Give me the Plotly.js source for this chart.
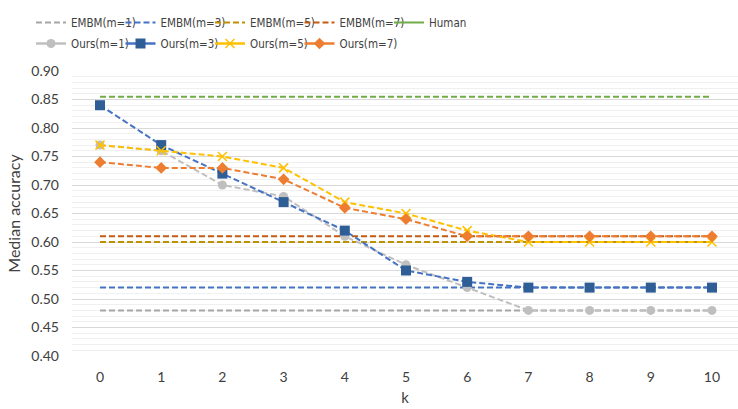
<!DOCTYPE html>
<html><head><meta charset="utf-8">
<script src="https://cdn.plot.ly/plotly-3.0.1.min.js"></script>
<style>html,body{margin:0;padding:0;background:#fff}#chart{width:738px;height:409px}</style>
</head><body><div id="chart"></div>
<script>
const k = [0,1,2,3,4,5,6,7,8,9,10];
const oursM1 = [0.77,0.76,0.70,0.68,0.61,0.56,0.52,0.48,0.48,0.48,0.48];
const oursM3 = [0.84,0.77,0.72,0.67,0.62,0.55,0.53,0.52,0.52,0.52,0.52];
const oursM5 = [0.77,0.76,0.75,0.73,0.67,0.65,0.62,0.60,0.60,0.60,0.60];
const oursM7 = [0.74,0.73,0.73,0.71,0.66,0.64,0.61,0.61,0.61,0.61,0.61];
const embmM1 = 0.48, embmM3 = 0.52, embmM5 = 0.60, embmM7 = 0.61, human = 0.855;
const yTicks = [0.40,0.45,0.50,0.55,0.60,0.65,0.70,0.75,0.80,0.85,0.90];

const TXT = '#404040';
const NARROW = '"Liberation Sans Narrow", "DejaVu Sans Condensed", Lato, sans-serif';
const LX = 31, STEP = 89.5, ROWY = [8, 29];
const DASH = "6px,3px";
const flat = v => k.map(() => v);
const traces = [];
const legends = {};
let nLeg = 0;
function newLegend(row, col){
  nLeg++;
  const id = nLeg === 1 ? 'legend' : 'legend' + nLeg;
  legends[id] = {orientation:'h', xref:'container', yref:'container', xanchor:'left', yanchor:'top',
    x:(LX + col*STEP)/738, y:1 - ROWY[row]/409, itemwidth:30, bgcolor:'rgba(0,0,0,0)',
    font:{family:NARROW, size:11.5, color:TXT}};
  return id;
}
function hline(name, v, color, legendDash, col){
  traces.push({x:k, y:flat(v), mode:'lines', name:name, showlegend:false,
    line:{color:color, width:2, dash:DASH}, hoverinfo:'skip'});
  traces.push({x:[null], y:[null], mode:'lines', name:name, legend:newLegend(0, col),
    line:{color:color, width:2, dash:legendDash}});
}
hline('EMBM(m=1)', embmM1, '#A5A5A5', DASH, 0);
hline('EMBM(m=3)', embmM3, '#4472C4', DASH, 1);
hline('EMBM(m=5)', embmM5, '#BF9000', DASH, 2);
hline('EMBM(m=7)', embmM7, '#C55A11', DASH, 3);
hline('Human', human, '#70AD47', 'solid', 4);

function ours(name, ys, color, mcolor, symbol, size, col, extra){
  const marker = Object.assign({color:mcolor, symbol:symbol, size:size}, extra||{});
  traces.push({x:k, y:ys, mode:'lines+markers', name:name, showlegend:false,
    line:{color:color, width:2, dash:DASH}, marker:marker});
  traces.push({x:[null], y:[null], mode:'lines+markers', name:name, legend:newLegend(1, col),
    line:{color:color, width:2.5}, marker:marker});
}
ours('Ours(m=1)', oursM1, '#BFBFBF', '#BFBFBF', 'circle', 9, 0);
ours('Ours(m=3)', oursM3, '#4472C4', '#2F5E96', 'square', 10, 1);
ours('Ours(m=5)', oursM5, '#FFC000', '#FFC000', 'x-thin-open', 9, 2, {line:{color:'#FFC000', width:1.5}});
ours('Ours(m=7)', oursM7, '#ED7D31', '#ED7D31', 'diamond', 9, 3);

const font = {family:'Lato, "Open Sans", sans-serif', size:14, color:TXT};
const layout = Object.assign({
  width:738, height:409, margin:{l:72, r:0, t:71, b:53},
  paper_bgcolor:'#fff', plot_bgcolor:'#fff', font:font, showlegend:true,
  xaxis:{range:[-0.4575,10.425], tickvals:k, ticktext:k.map(String), showgrid:false, zeroline:false,
    showline:false, ticks:'', ticklabelstandoff:11, tickfont:{size:14, color:TXT},
    title:{text:'k', font:{size:15, color:TXT}, standoff:8}},
  yaxis:{range:[0.40,0.90], tickvals:yTicks, ticktext:yTicks.map(v=>v.toFixed(2)), showgrid:true,
    gridcolor:'#D9D9D9', gridwidth:1, zeroline:false, showline:false, ticks:'',
    ticklabelstandoff:12, tickfont:{size:14, color:TXT},
    minor:{dtick:0.01, showgrid:true, gridcolor:'#F0F0F0', gridwidth:1},
    title:{text:'Median accuracy', font:{size:16, color:TXT}, standoff:6}}
}, legends);
Plotly.newPlot('chart', traces, layout, {displayModeBar:false, staticPlot:true});
</script></body></html>
